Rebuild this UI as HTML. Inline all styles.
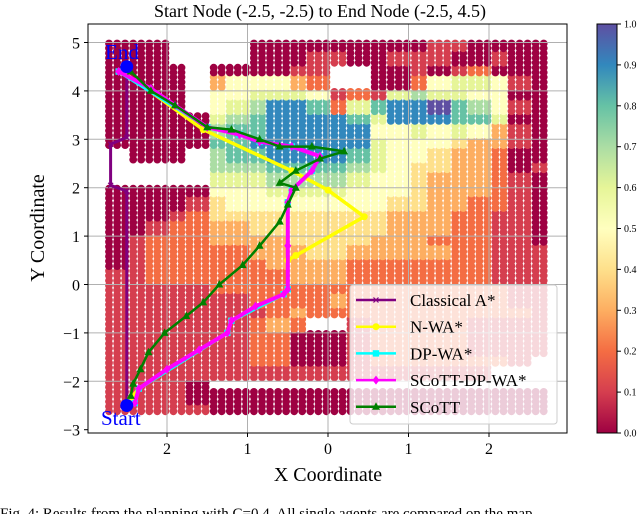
<!DOCTYPE html>
<html><head><meta charset="utf-8"><style>
html,body{margin:0;padding:0;background:#fff;width:640px;height:514px;overflow:hidden}
svg{display:block}
text{font-family:"Liberation Serif",serif}
</style></head><body>
<svg id="chart" width="640" height="514" viewBox="0 0 640 514" xmlns="http://www.w3.org/2000/svg">
<defs>
<linearGradient id="spec" x1="0" y1="1" x2="0" y2="0">
<stop offset="0" stop-color="#9e0142"/><stop offset="0.1" stop-color="#d53e4f"/><stop offset="0.2" stop-color="#f46d43"/><stop offset="0.3" stop-color="#fdae61"/><stop offset="0.4" stop-color="#fee08b"/><stop offset="0.5" stop-color="#ffffbf"/><stop offset="0.6" stop-color="#e6f598"/><stop offset="0.7" stop-color="#abdda4"/><stop offset="0.8" stop-color="#66c2a5"/><stop offset="0.9" stop-color="#3288bd"/><stop offset="1" stop-color="#5e4fa2"/>
</linearGradient>
<clipPath id="plotclip"><rect x="88" y="24" width="479" height="409"/></clipPath>
</defs>
<g id="heat" clip-path="url(#plotclip)"></g>
<g id="grid"></g>
<g id="paths"></g>
<rect x="88" y="24" width="479" height="409" fill="none" stroke="#000" stroke-width="1"/>
<g id="legend"></g>
<g id="ticks"></g>
<text x="320" y="17" font-size="18" text-anchor="middle">Start Node (-2.5, -2.5) to End Node (-2.5, 4.5)</text>
<text x="328" y="481" font-size="20" text-anchor="middle">X Coordinate</text>
<text transform="translate(44,228) rotate(-90)" font-size="20" text-anchor="middle">Y Coordinate</text>
<rect x="597" y="24" width="20" height="409" fill="url(#spec)" stroke="#000" stroke-width="1"/>
<g id="cbticks"></g>
<text x="0" y="518" font-size="15">Fig. 4: Results from the planning with C=0.4. All single agents are compared on the map</text>
</svg>
<script>
// ---- data ----
const xTicks = [-2, -1, 0, 1, 2];
const xTickLabels = ["2", "1", "0", "1", "2"];
const yTicks = [-3, -2, -1, 0, 1, 2, 3, 4, 5];
const yTickLabels = ["\u22123", "\u22122", "\u22121", "0", "1", "2", "3", "4", "5"];
const cbTicks = [0, 0.1, 0.2, 0.3, 0.4, 0.5, 0.6, 0.7, 0.8, 0.9, 1.0];
const cbTickLabels = ["0.0","0.1","0.2","0.3","0.4","0.5","0.6","0.7","0.8","0.9","1.0"];
const heatX0 = -2.75, heatY0 = 5.05, heatCell = 0.25;
const heatRows = [
"000....000000000110000",
"000....000110011100100",
"0000.000011..001012000",
"0000.355532..002566510",
"0000.55666512167665500",
"0000.56799826899a87510",
"0000067899998699988600",
"0000078899999556565310",
"0000088999999655543310",
".000.78899998655433200",
".....77788887654433201",
".....66677776554333210",
"0000055566665554333210",
"0000145555555544332210",
"0001244444444433322110",
"0012233444444433322110",
"0122233334444333222110",
"0122222333443333322111",
"0122222233332222222111",
"1122222223332222222111",
"1111122222222222222211",
"1111111222232222222211",
"1111111123222222222221",
"1111111232..1222221111",
"1111111220001222221111",
"1111111220001222221111",
"111111122000122222221.",
"1111111111111111111...",
"11110.................",
"1111000000000000000000",
"1111100000000000000000"
];
const classicalX = [-2.5, -2.5, -2.7, -2.7, -2.5, -2.5];
const classicalY = [-2.5, 1.93, 2.05, 2.9, 3.04, 4.5];
const nwaX = [-2.45, -2.35, -1.25, -1.2, -0.55, -0.5, -0.5, -0.4, 0.45, 0.0, -0.45, -1.55, -2.55];
const nwaY = [-2.35, -2.15, -1.0, -0.75, -0.2, -0.1, 0.5, 0.6, 1.4, 1.95, 2.35, 3.2, 4.4];
const dpX = [-2.4, -2.35, -1.25, -1.2, -0.55, -0.5, -0.5, -0.45, -0.2, -0.1, -0.45, -0.85, -1.1, -1.5, -2.6];
const dpY = [-2.45, -2.15, -1.0, -0.75, -0.2, -0.1, 1.7, 1.95, 2.35, 2.65, 2.85, 2.95, 3.1, 3.25, 4.4];
const scdpX = [-2.4, -2.35, -2.0, -1.6, -1.25, -1.2, -0.9, -0.55, -0.5, -0.5, -0.5, -0.45, -0.2, -0.1, -0.45, -0.85, -1.1, -1.5, -1.9, -2.2, -2.6];
const scdpY = [-2.45, -2.15, -1.75, -1.35, -1.0, -0.75, -0.45, -0.2, -0.1, 0.8, 1.7, 1.95, 2.35, 2.65, 2.85, 2.95, 3.1, 3.25, 3.7, 4.05, 4.4];
const scottX = [-2.45, -2.42, -2.33, -2.23, -2.03, -1.76, -1.55, -1.35, -1.06, -0.85, -0.6, -0.5, -0.4, -0.6, -0.4, -0.1, 0.2, -0.2, -0.6, -0.85, -1.2, -1.5, -1.9, -2.2, -2.45];
const scottY = [-2.3, -2.05, -1.75, -1.4, -1.0, -0.65, -0.37, 0.0, 0.4, 0.8, 1.3, 1.65, 2.0, 2.1, 2.35, 2.6, 2.75, 2.85, 2.85, 3.0, 3.2, 3.25, 3.7, 4.0, 4.4];
const startPt = [-2.5, -2.5];
const endPt = [-2.5, 4.5];

const sx = x => 328 + x * 80.5;
const sy = y => 284.5 - y * 48.4;
const cbY = v => 433 - v * 409;
const NS = "http://www.w3.org/2000/svg";
function mk(tag, attrs, parent) { const e = document.createElementNS(NS, tag); for (const k in attrs) e.setAttribute(k, attrs[k]); parent.appendChild(e); return e; }
const spectral = ["#9e0142","#d53e4f","#f46d43","#fdae61","#fee08b","#ffffbf","#e6f598","#abdda4","#66c2a5","#3288bd","#5e4fa2"];
function colorOf(ch) { if (ch === "a") return spectral[10]; return spectral[parseInt(ch, 10)]; }

const heat = document.getElementById("heat");
for (let yv = -2.72; yv <= 5.02; yv += 0.1) {
  for (let xv = -2.72; xv <= 2.72; xv += 0.1) {
    const r = Math.floor((heatY0 - yv) / heatCell);
    const c = Math.floor((xv - heatX0) / heatCell);
    if (r < 0 || r >= heatRows.length) continue;
    const ch = heatRows[r][c];
    if (!ch || ch === "." || ch === " ") continue;
    const d = mk("circle", {cx: sx(xv).toFixed(1), cy: sy(yv).toFixed(1), r: 3.9, fill: colorOf(ch)}, heat);
    
    
  }
}

const grid = document.getElementById("grid"), ticks = document.getElementById("ticks");
xTicks.forEach((v, i) => {
  const l = mk("line", {x1: sx(v), x2: sx(v), y1: 24, y2: 433, stroke: "#b0b0b0", "stroke-width": 1}, grid);
  
  
  mk("line", {x1: sx(v), x2: sx(v), y1: 433, y2: 437, stroke: "#000"}, ticks);
  const t = mk("text", {x: sx(v), y: 454, "font-size": 16, "text-anchor": "middle"}, ticks);
  t.textContent = xTickLabels[i];
  
  
});
yTicks.forEach((v, i) => {
  if (v > -3) {
    const l = mk("line", {x1: 88, x2: 567, y1: sy(v), y2: sy(v), stroke: "#b0b0b0", "stroke-width": 1}, grid);
    
    
  }
  mk("line", {x1: 84, x2: 88, y1: sy(v), y2: sy(v), stroke: "#000"}, ticks);
  const t = mk("text", {x: 80, y: sy(v) + 6, "font-size": 16, "text-anchor": "end"}, ticks);
  t.textContent = yTickLabels[i];
  
  
});
const cbt = document.getElementById("cbticks");
cbTicks.forEach((v, i) => {
  mk("line", {x1: 617, x2: 621, y1: cbY(v), y2: cbY(v), stroke: "#000"}, cbt);
  const t = mk("text", {x: 624, y: cbY(v) + 3.5, "font-size": 10}, cbt);
  t.textContent = cbTickLabels[i];
  
  
});

const paths = document.getElementById("paths");
function marker(kind, x, y, color, g) {
  if (kind === "x") return mk("path", {d: `M${x-2.5},${y-2.5}L${x+2.5},${y+2.5}M${x-2.5},${y+2.5}L${x+2.5},${y-2.5}`, stroke: color, "stroke-width": 1.2}, g);
  if (kind === "o") return mk("circle", {cx: x, cy: y, r: 3.5, fill: color}, g);
  if (kind === "s") return mk("rect", {x: x-3.2, y: y-3.2, width: 6.4, height: 6.4, fill: color}, g);
  if (kind === "d") return mk("path", {d: `M${x},${y-4.5}L${x+3.5},${y}L${x},${y+4.5}L${x-3.5},${y}Z`, fill: color}, g);
  return mk("path", {d: `M${x},${y-4.5}L${x+4},${y+3}L${x-4},${y+3}Z`, fill: color}, g);
}
function series(name, xs, ys, color, kind, w) {
  const g = mk("g", {}, paths);
  
  
  const pts = xs.map((x, i) => sx(x).toFixed(1) + "," + sy(ys[i]).toFixed(1)).join(" ");
  mk("polyline", {points: pts, fill: "none", stroke: color, "stroke-width": w, "stroke-linejoin": "round"}, g);
  xs.forEach((x, i) => marker(kind, sx(x), sy(ys[i]), color, g));
}
series("classical-astar-path", classicalX, classicalY, "#800080", "x", 3);
series("n-wa-path", nwaX, nwaY, "#ffff00", "o", 3.5);
series("dp-wa-path", dpX, dpY, "#00ffff", "s", 3.5);
series("scott-dp-wa-path", scdpX, scdpY, "#ff00ff", "d", 4);
series("scott-path", scottX, scottY, "#008000", "t", 2.5);

const sp = mk("circle", {cx: sx(startPt[0]), cy: sy(startPt[1]), r: 6.5, fill: "#0000ff"}, paths);


const ep = mk("circle", {cx: sx(endPt[0]), cy: sy(endPt[1]), r: 6.5, fill: "#0000ff"}, paths);


const st = mk("text", {x: 101, y: 425, "font-size": 21, fill: "#0000ff"}, paths);
st.textContent = "Start";


const et = mk("text", {x: 105, y: 59, "font-size": 21, fill: "#0000ff"}, paths);
et.textContent = "End";



const lg = document.getElementById("legend");


mk("rect", {x: 350, y: 285, width: 207, height: 139, rx: 3, fill: "rgba(255,255,255,0.8)", stroke: "#cccccc"}, lg);
const legNames = ["Classical A*", "N-WA*", "DP-WA*", "SCoTT-DP-WA*", "SCoTT"];
const legColors = ["#800080", "#ffff00", "#00ffff", "#ff00ff", "#008000"];
const legKinds = ["x", "o", "s", "d", "t"];
legNames.forEach((n, i) => {
  const y = 300 + i * 26.7;
  const g = mk("g", {}, lg);
  
  
  mk("line", {x1: 356, x2: 396, y1: y, y2: y, stroke: legColors[i], "stroke-width": 2.5}, g);
  marker(legKinds[i], 376, y, legColors[i], g);
  const t = mk("text", {x: 410, y: y + 6, "font-size": 17}, g);
  t.textContent = n;
});
</script>
</body></html>
